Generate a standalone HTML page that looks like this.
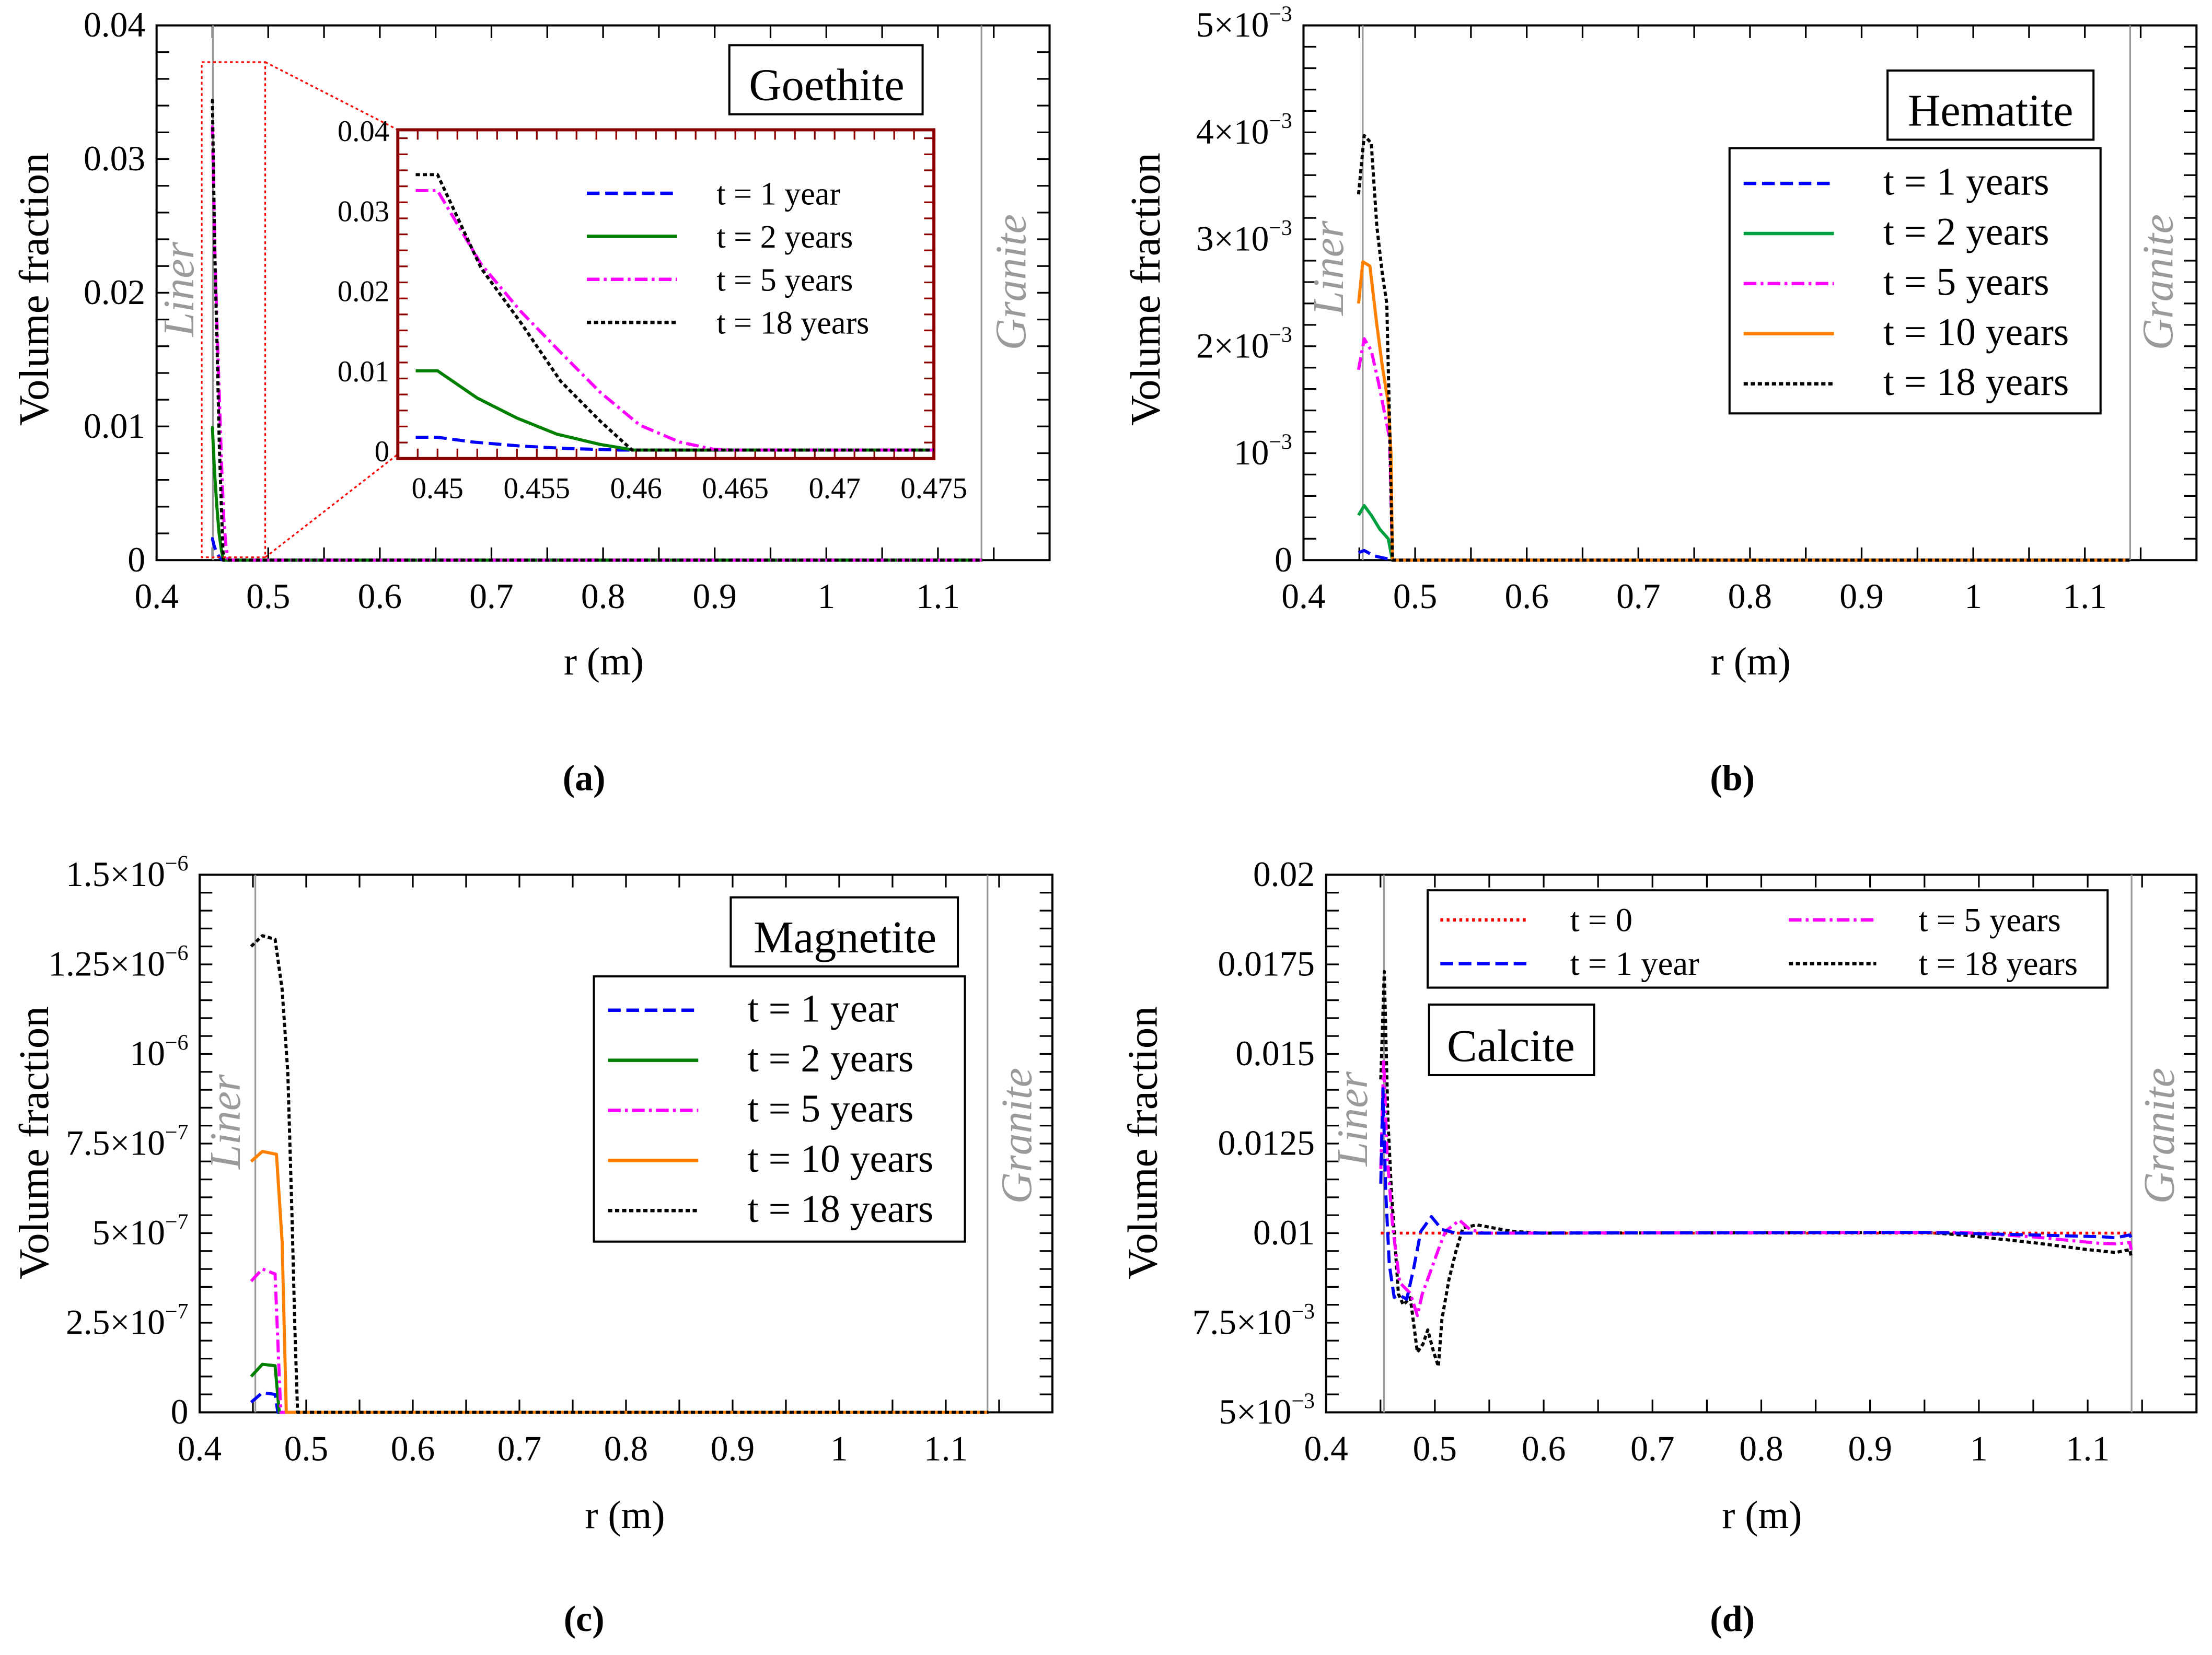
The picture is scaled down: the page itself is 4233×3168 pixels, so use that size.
<!DOCTYPE html>
<html><head><meta charset="utf-8"><style>
html,body{margin:0;padding:0;background:#fff}
svg{display:block}
text{font-family:"Liberation Serif",serif}
</style></head><body>
<svg id="fig" xmlns="http://www.w3.org/2000/svg" width="4233" height="3168" viewBox="0 0 1568 1173" preserveAspectRatio="none">
<defs>
<clipPath id="clipInset"><rect x="282" y="92" width="380" height="233"/></clipPath>
</defs>
</svg>
<script>
// ---------- DATA ----------
// Panel (a) Goethite
const goeR1 = [0.4489,0.45,0.4518,0.4542,0.4565,0.4592,0.46,1.14];
const goeV1 = [0.0016,0.0016,0.001,0.0005,0.0002,0,0,0];
const goeR2 = [0.4489,0.45,0.452,0.454,0.456,0.4582,0.4599,1.14];
const goeV2 = [0.0099,0.0099,0.0065,0.004,0.002,0.0007,0,0];
const goeR5 = [0.4489,0.45,0.4522,0.4542,0.4562,0.4582,0.4602,0.4622,0.4639,0.4649,1.14];
const goeV5 = [0.0324,0.0324,0.0232,0.0173,0.0122,0.0072,0.0031,0.001,0.0001,0,0];
const goeR18 = [0.4489,0.45,0.4522,0.4542,0.4562,0.4582,0.4598,1.14];
const goeV18 = [0.0344,0.0344,0.0227,0.0159,0.0086,0.0036,0,0];
// Panel (b) Hematite
const hemR1 = [0.4493,0.4544,0.4632,0.4759,0.4797,1.14];
const hemV1 = [0.00007,0.00009,0.00004,0.00001,0,0];
const hemR2 = [0.4493,0.4544,0.4607,0.4683,0.4759,0.4797,1.14];
const hemV2 = [0.00042,0.00051,0.00042,0.00029,0.0002,0,0];
const hemR5 = [0.4493,0.4544,0.4607,0.467,0.4733,0.4771,0.4797,1.14];
const hemV5 = [0.00178,0.00207,0.00196,0.00167,0.00134,0.00114,0,0];
const hemR10 = [0.4493,0.4532,0.4595,0.4657,0.4708,0.4759,0.4784,0.4797,1.14];
const hemV10 = [0.0024,0.00279,0.00275,0.0022,0.0018,0.00147,0.001,0,0];
const hemR18 = [0.4493,0.4544,0.4607,0.4657,0.4708,0.4746,0.4771,0.4797,1.14];
const hemV18 = [0.00342,0.00397,0.0039,0.00312,0.00266,0.0024,0.00128,0,0];
// Panel (c) Magnetite
const magR1 = [0.4483,0.4589,0.4708,0.4734,1.14];
const magV1 = [2.8e-8,5.5e-8,5.0e-8,0,0];
const magR2 = [0.4483,0.4589,0.4708,0.4747,1.14];
const magV2 = [1.0e-7,1.34e-7,1.3e-7,0,0];
const magR5 = [0.4483,0.4589,0.4708,0.4761,1.14];
const magV5 = [3.66e-7,4.0e-7,3.86e-7,0,0];
const magR10 = [0.4483,0.4589,0.4721,0.4774,0.4813,1.14];
const magV10 = [7.0e-7,7.28e-7,7.2e-7,4.76e-7,0,0];
const magR18 = [0.4483,0.4589,0.4708,0.4774,0.4827,0.4866,0.4893,0.4919,1.14];
const magV18 = [1.30e-6,1.33e-6,1.32e-6,1.18e-6,0.95e-6,0.555e-6,0.24e-6,0,0];
// Panel (d) Calcite
const calR0 = [0.4503,1.14];
const calV0 = [0.01,0.01];
const calR1 = [0.4503,0.4523,0.4548,0.4581,0.4626,0.4677,0.4742,0.4806,0.4871,0.4968,0.5065,0.5194,0.9516,1.0484,1.1129,1.1258,1.1387,1.14];
const calV1 = [0.01138,0.01403,0.01117,0.00913,0.00821,0.00826,0.00816,0.00903,0.01005,0.01046,0.0101,0.01,0.01002,0.00995,0.0099,0.00987,0.00995,0.00987];
const calR5 = [0.4503,0.4529,0.4561,0.4613,0.4677,0.4774,0.4839,0.4884,0.4968,0.5032,0.5097,0.5226,0.5323,0.5452,0.9839,1.0484,1.1129,1.1258,1.1387,1.14];
const calV5 = [0.01179,0.01485,0.0122,0.01015,0.00862,0.00832,0.0077,0.0083,0.009,0.00954,0.01005,0.01036,0.0101,0.01,0.01002,0.0099,0.00971,0.0097,0.00974,0.00954];
const calR18 = [0.4503,0.4535,0.4568,0.46,0.4665,0.471,0.4774,0.4839,0.489,0.4935,0.4987,0.5032,0.5065,0.5129,0.5194,0.5258,0.5387,0.571,0.5968,0.9516,0.9839,1.0484,1.1,1.1258,1.1387,1.14];
const calV18 = [0.01429,0.0173,0.0132,0.0112,0.0083,0.008,0.0082,0.00668,0.0069,0.0073,0.0067,0.00628,0.0076,0.0087,0.0095,0.01015,0.01023,0.01005,0.01,0.01002,0.00995,0.00974,0.00954,0.00946,0.00954,0.00934];
// Tick labels
const mainXTicks = [0.4,0.5,0.6,0.7,0.8,0.9,1,1.1];
const mainXLabels = ["0.4","0.5","0.6","0.7","0.8","0.9","1","1.1"];
const goeYTicks = [0,0.01,0.02,0.03,0.04];
const goeYLabels = [["0",""],["0.01",""],["0.02",""],["0.03",""],["0.04",""]];
const insetXTicks = [0.45,0.455,0.46,0.465,0.47,0.475];
const insetXLabels = ["0.45","0.455","0.46","0.465","0.47","0.475"];
const hemYTicks = [0,0.001,0.002,0.003,0.004,0.005];
const hemYLabels = [["0",""],["10","−3"],["2×10","−3"],["3×10","−3"],["4×10","−3"],["5×10","−3"]];
const magYTicks = [0,2.5e-7,5e-7,7.5e-7,1e-6,1.25e-6,1.5e-6];
const magYLabels = [["0",""],["2.5×10","−7"],["5×10","−7"],["7.5×10","−7"],["10","−6"],["1.25×10","−6"],["1.5×10","−6"]];
const calYTicks = [0.005,0.0075,0.01,0.0125,0.015,0.0175,0.02];
const calYLabels = [["5×10","−3"],["7.5×10","−3"],["0.01",""],["0.0125",""],["0.015",""],["0.0175",""],["0.02",""]];

// ---------- DRAWING ----------
const NS = "http://www.w3.org/2000/svg";
const svg = document.getElementById('fig');
function mk(tag, attrs, parent){
  const e = document.createElementNS(NS, tag);
  for (const k in attrs) e.setAttribute(k, attrs[k]);
  (parent||svg).appendChild(e);
  return e;
}
const STY = {
  red:{stroke:"#ff0000",dash:"2,2.5",w:2},
  blue:{stroke:"#0000ff",dash:"9,4",w:2.2},
  green:{stroke:"#008000",dash:"",w:2.2},
  green2:{stroke:"#00a040",dash:"",w:2.2},
  magenta:{stroke:"#ff00ff",dash:"9,3,2,3",w:2.2},
  orange:{stroke:"#ff8000",dash:"",w:2.2},
  black:{stroke:"#000000",dash:"3,2",w:2.2}
};

function makeAxes(o){
  const sx = r => o.x0 + (r-o.rmin)/(o.rmax-o.rmin)*(o.x1-o.x0);
  const sy = v => o.y1 - (v-o.vmin)/(o.vmax-o.vmin)*(o.y1-o.y0);
  return {sx, sy};
}

function drawFrame(o, ax, name){
  const g = mk('g',{});
  
  
  for (let r=o.rmin; r<=o.rmax+1e-9; r+=o.xMinor){
    const x = ax.sx(r);
    const t1 = mk('line',{x1:x,y1:o.y1,x2:x,y2:o.y1-o.tl,stroke:o.frame||"#000","stroke-width":1.2},g);
    
    
    const t2 = mk('line',{x1:x,y1:o.y0,x2:x,y2:o.y0+o.tl,stroke:o.frame||"#000","stroke-width":1.2},g);
    
    
  }
  for (let v=o.vmin; v<=o.vmax+1e-12; v+=o.yMinor){
    const y = ax.sy(v);
    const t1 = mk('line',{x1:o.x0,y1:y,x2:o.x0+o.tl,y2:y,stroke:o.frame||"#000","stroke-width":1.2},g);
    
    
    const t2 = mk('line',{x1:o.x1,y1:y,x2:o.x1-o.tl,y2:y,stroke:o.frame||"#000","stroke-width":1.2},g);
    
    
  }
  const box = mk('rect',{x:o.x0,y:o.y0,width:o.x1-o.x0,height:o.y1-o.y0,fill:"none",stroke:o.frame||"#000","stroke-width":o.fw||1.5},g);
  
  
  o.xTicks.forEach((r,i)=>{
    const t = mk('text',{x:ax.sx(r),y:o.y1+o.xLabOff,"text-anchor":"middle","font-size":o.fs,fill:"#000"},g);
    t.textContent = o.xLabels[i];
    
    
  });
  o.yTicks.forEach((v,i)=>{
    const t = mk('text',{x:o.x0-o.yLabOff,y:ax.sy(v)+8,"text-anchor":"end","font-size":o.fs,fill:"#000"},g);
    
    
    const lab = o.yLabels[i];
    if (lab[1]){
      const a = mk('tspan',{},t); a.textContent = lab[0];
      const b = mk('tspan',{"font-size":o.fs*0.62,dy:-11},t); b.textContent = lab[1];
    } else t.textContent = lab[0];
  });
}

function drawSeries(ax, rs, vs, sty, name, parent, clip){
  const pts = rs.map((r,i)=>ax.sx(r).toFixed(2)+","+ax.sy(vs[i]).toFixed(2)).join(" ");
  const a = {points:pts,fill:"none",stroke:sty.stroke,"stroke-width":sty.w,"stroke-linejoin":"round"};
  if (sty.dash) a["stroke-dasharray"]=sty.dash;
  if (clip) a["clip-path"]=clip;
  const p = mk('polyline',a,parent);
  
  
}

function vline(x,y0,y1,name){
  const l = mk('line',{x1:x,y1:y0,x2:x,y2:y1,stroke:"#999","stroke-width":1.2});
  
  
}
function rotText(x,y,txt,name,size,color,italic,bold){
  const t = mk('text',{x:x,y:y,"text-anchor":"middle","font-size":size,transform:`rotate(-90 ${x} ${y})`,fill:color||"#000","font-style":italic?"italic":"normal","font-weight":bold?"bold":"normal"});
  t.textContent = txt;
  
  
}
function text(x,y,txt,name,size,anchor,bold,color){
  const t = mk('text',{x:x,y:y,"text-anchor":anchor||"middle","font-size":size,"font-weight":bold?"bold":"normal",fill:color||"#000"});
  t.textContent = txt;
  
  
  return t;
}
function boxRect(x,y,w,h,name,sw){
  const r = mk('rect',{x:x,y:y,width:w,height:h,fill:"#fff",stroke:"#000","stroke-width":sw===undefined?1.5:sw});
  
  
}
function legend(items, x, y, dy, lineLen, textOff, size, name){
  items.forEach((it,i)=>{
    const yy = y + i*dy;
    const a = {x1:x,y1:yy,x2:x+lineLen,y2:yy,stroke:it[0].stroke,"stroke-width":2.4};
    if (it[0].dash) a["stroke-dasharray"]=it[0].dash;
    const l = mk('line',a);
    
    
    text(x+lineLen+textOff, yy+8, it[1], name+'-label', size, "start");
  });
}
const GREY = "#9a9a9a";

// ===== Panel (a) =====
const oa = {x0:111,x1:744,y0:18,y1:397,rmin:0.4,rmax:1.2,vmin:0,vmax:0.04,xMinor:0.05,yMinor:0.002,tl:9,
  xTicks:mainXTicks,xLabels:mainXLabels,yTicks:goeYTicks,yLabels:goeYLabels,fs:25,xLabOff:34,yLabOff:8};
const axA = makeAxes(oa);
drawFrame(oa, axA, 'goethite');
vline(axA.sx(0.4505),18,397,'liner-boundary-a');
vline(axA.sx(1.139),18,397,'granite-boundary-a');
rotText(137,205,"Liner",'liner-label-a',31,GREY,true);
rotText(727,200,"Granite",'granite-label-a',31,GREY,true);
drawSeries(axA,goeR1,goeV1,STY.blue,'goethite-t1');
drawSeries(axA,goeR2,goeV2,STY.green,'goethite-t2');
drawSeries(axA,goeR5,goeV5,STY.magenta,'goethite-t5');
drawSeries(axA,goeR18,goeV18,STY.black,'goethite-t18');
const zb = mk('rect',{x:143,y:44,width:45,height:351,fill:"none",stroke:"#ff0000","stroke-width":1.2,"stroke-dasharray":"2,2"});


const c1 = mk('line',{x1:188,y1:44,x2:282,y2:92,stroke:"#ff0000","stroke-width":1.2,"stroke-dasharray":"2,2"});


const c2 = mk('line',{x1:188,y1:395,x2:282,y2:322,stroke:"#ff0000","stroke-width":1.2,"stroke-dasharray":"2,2"});


boxRect(282,92,380,233,'inset-background',0);
const oi = {x0:282,x1:662,y0:92,y1:325,rmin:0.448,rmax:0.475,vmin:-0.0011,vmax:0.04,xMinor:0.001,yMinor:0.002,tl:7,
  xTicks:insetXTicks,xLabels:insetXLabels,yTicks:goeYTicks,yLabels:goeYLabels,fs:21,xLabOff:28,yLabOff:6,frame:"#8b0000",fw:2.2};
oi.vmin = -0.04*(325-319)/(319-92);
const axI = makeAxes(oi);
drawFrame(oi, axI, 'inset');
const gI = mk('g',{});


drawSeries(axI,goeR1,goeV1,STY.blue,'inset-t1',gI,"url(#clipInset)");
drawSeries(axI,goeR2,goeV2,STY.green,'inset-t2',gI,"url(#clipInset)");
drawSeries(axI,goeR5,goeV5,STY.magenta,'inset-t5',gI,"url(#clipInset)");
drawSeries(axI,goeR18,goeV18,STY.black,'inset-t18',gI,"url(#clipInset)");
legend([[STY.blue,"t = 1 year"],[STY.green,"t = 2 years"],[STY.magenta,"t = 5 years"],[STY.black,"t = 18 years"]],416,137,30.5,64,28,23,'inset-legend');
boxRect(517,32,137,49,'goethite-title-box');
text(586,71,"Goethite",'goethite-title',32);
text(428,478,"r (m)",'x-axis-title-a',28);
rotText(34,205,"Volume fraction",'y-axis-title-a',30);
text(414,560,"(a)",'panel-label-a',26,"middle",true);

// ===== Panel (b) =====
const ob = {x0:924,x1:1557,y0:18,y1:397,rmin:0.4,rmax:1.2,vmin:0,vmax:0.005,xMinor:0.05,yMinor:0.0002,tl:9,
  xTicks:mainXTicks,xLabels:mainXLabels,yTicks:hemYTicks,yLabels:hemYLabels,fs:25,xLabOff:34,yLabOff:8};
const axB = makeAxes(ob);
drawFrame(ob, axB, 'hematite');
vline(966,18,397,'liner-boundary-b');
vline(1510,18,397,'granite-boundary-b');
rotText(952,190,"Liner",'liner-label-b',31,GREY,true);
rotText(1540,200,"Granite",'granite-label-b',31,GREY,true);
drawSeries(axB,hemR1,hemV1,STY.blue,'hematite-t1');
drawSeries(axB,hemR2,hemV2,STY.green2,'hematite-t2');
drawSeries(axB,hemR5,hemV5,STY.magenta,'hematite-t5');
drawSeries(axB,hemR10,hemV10,STY.orange,'hematite-t10');
drawSeries(axB,hemR18,hemV18,STY.black,'hematite-t18');
boxRect(1338,50,146,49,'hematite-title-box');
text(1411,89,"Hematite",'hematite-title',32);
boxRect(1226,105,263,188,'hematite-legend-box');
legend([[STY.blue,"t = 1 years"],[STY.green2,"t = 2 years"],[STY.magenta,"t = 5 years"],[STY.orange,"t = 10 years"],[STY.black,"t = 18 years"]],1236,130,35.5,64,35,28,'hematite-legend');
text(1241,478,"r (m)",'x-axis-title-b',28);
rotText(822,205,"Volume fraction",'y-axis-title-b',30);
text(1228,560,"(b)",'panel-label-b',26,"middle",true);

// ===== Panel (c) =====
const oc = {x0:141.5,x1:746,y0:620,y1:1001,rmin:0.4,rmax:1.2,vmin:0,vmax:1.5e-6,xMinor:0.05,yMinor:5e-8,tl:9,
  xTicks:mainXTicks,xLabels:mainXLabels,yTicks:magYTicks,yLabels:magYLabels,fs:25,xLabOff:34,yLabOff:8};
const axC = makeAxes(oc);
drawFrame(oc, axC, 'magnetite');
vline(181,620,1001,'liner-boundary-c');
vline(700,620,1001,'granite-boundary-c');
rotText(170,795,"Liner",'liner-label-c',31,GREY,true);
rotText(731,805,"Granite",'granite-label-c',31,GREY,true);
drawSeries(axC,magR1,magV1,STY.blue,'magnetite-t1');
drawSeries(axC,magR2,magV2,STY.green,'magnetite-t2');
drawSeries(axC,magR5,magV5,STY.magenta,'magnetite-t5');
drawSeries(axC,magR10,magV10,STY.orange,'magnetite-t10');
drawSeries(axC,magR18,magV18,STY.black,'magnetite-t18');
boxRect(518,636,161,49,'magnetite-title-box');
text(599,675,"Magnetite",'magnetite-title',32);
boxRect(421,692,263,188,'magnetite-legend-box');
legend([[STY.blue,"t = 1 year"],[STY.green,"t = 2 years"],[STY.magenta,"t = 5 years"],[STY.orange,"t = 10 years"],[STY.black,"t = 18 years"]],431,716,35.5,64,35,28,'magnetite-legend');
text(443,1083,"r (m)",'x-axis-title-c',28);
rotText(34,810,"Volume fraction",'y-axis-title-c',30);
text(414,1156,"(c)",'panel-label-c',26,"middle",true);

// ===== Panel (d) =====
const od = {x0:940,x1:1557,y0:620,y1:1001,rmin:0.4,rmax:1.2,vmin:0.005,vmax:0.02,xMinor:0.05,yMinor:0.0005,tl:9,
  xTicks:mainXTicks,xLabels:mainXLabels,yTicks:calYTicks,yLabels:calYLabels,fs:25,xLabOff:34,yLabOff:8};
const axD = makeAxes(od);
drawFrame(od, axD, 'calcite');
vline(981,620,1001,'liner-boundary-d');
vline(1511,620,1001,'granite-boundary-d');
rotText(969,793,"Liner",'liner-label-d',31,GREY,true);
rotText(1541,805,"Granite",'granite-label-d',31,GREY,true);
drawSeries(axD,calR0,calV0,STY.red,'calcite-t0');
drawSeries(axD,calR18,calV18,STY.black,'calcite-t18');
drawSeries(axD,calR5,calV5,STY.magenta,'calcite-t5');
drawSeries(axD,calR1,calV1,STY.blue,'calcite-t1');
boxRect(1012,631,482,69,'calcite-legend-box');
legend([[STY.red,"t = 0"],[STY.blue,"t = 1 year"]],1021,652,31,62,30,24,'calcite-legend-col1');
legend([[STY.magenta,"t = 5 years"],[STY.black,"t = 18 years"]],1268,652,31,62,30,24,'calcite-legend-col2');
boxRect(1013,712,117,50,'calcite-title-box');
text(1071,752,"Calcite",'calcite-title',32);
text(1249,1083,"r (m)",'x-axis-title-d',28);
rotText(820,810,"Volume fraction",'y-axis-title-d',30);
text(1228,1156,"(d)",'panel-label-d',26,"middle",true);
</script>
</body></html>
